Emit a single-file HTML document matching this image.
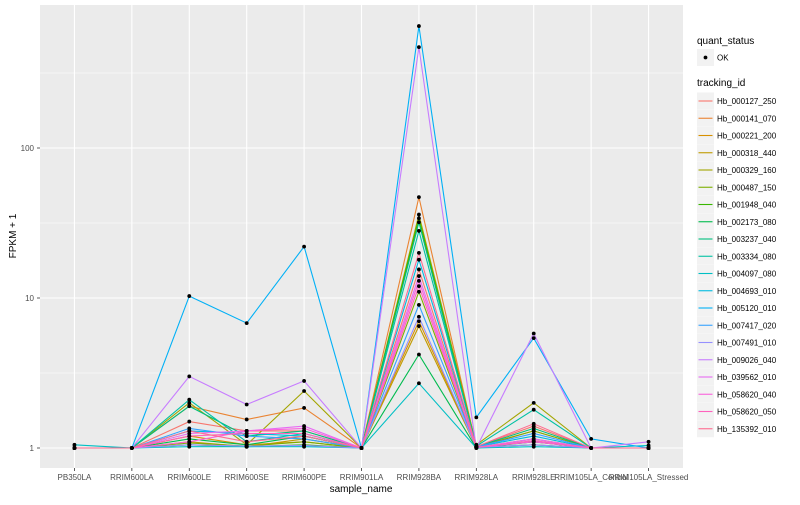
<!DOCTYPE html>
<html><head><meta charset="utf-8"><style>
body{margin:0;background:#fff;font-family:"Liberation Sans",sans-serif}
svg text{font-family:"Liberation Sans",sans-serif}
</style></head><body>
<svg id="chart" width="800" height="500" xmlns="http://www.w3.org/2000/svg">
<rect x="0" y="0" width="800" height="500" fill="#fff"/>
<rect id="panel" x="40" y="5" width="643" height="463" fill="#EBEBEB"/>
<g id="grid"></g><g id="lines"></g><g id="points"></g><g id="axes"></g><g id="legend"></g>
</svg>
<script>
const categories=["PB350LA","RRIM600LA","RRIM600LE","RRIM600SE","RRIM600PE","RRIM901LA","RRIM928BA","RRIM928LA","RRIM928LE","RRIM105LA_Control","RRIM105LA_Stressed"];
const seriesNames=["Hb_000127_250","Hb_000141_070","Hb_000221_200","Hb_000318_440","Hb_000329_160","Hb_000487_150","Hb_001948_040","Hb_002173_080","Hb_003237_040","Hb_003334_080","Hb_004097_080","Hb_004693_010","Hb_005120_010","Hb_007417_020","Hb_007491_010","Hb_009026_040","Hb_039562_010","Hb_058620_040","Hb_058620_050","Hb_135392_010"];
const seriesColors=["#F8766D","#EA8331","#D89000","#C09B00","#A3A500","#7CAE00","#39B600","#00BB4E","#00BF7D","#00C1A3","#00BFC4","#00BAE0","#00B0F6","#35A2FF","#9590FF","#C77CFF","#E76BF3","#FA62DB","#FF62BC","#FF6C91"];
const s01=[1,1,1.5,1.3,1.3,1,15.5,1.02,1.4,1,1];
const s02=[1,1,1.9,1.55,1.85,1,47,1.02,1.3,1,1];
const s03=[1,1,1.2,1.05,1.1,1,7,1.01,1.1,1,1];
const s04=[1,1,1.1,1.02,1.15,1,6.5,1.01,1.15,1,1];
const s05=[1,1,2.0,1.05,2.4,1,36,1.05,2.0,1,1];
const s06=[1,1,1.08,1.03,1.1,1,11,1.01,1.3,1,1];
const s07=[1,1,1.05,1.02,1.05,1,34,1.01,1.05,1,1];
const s08=[1,1,1.15,1.05,1.2,1,4.2,1.0,1.1,1,1];
const s09=[1,1,1.9,1.2,1.3,1,32,1.02,1.35,1,1];
const s10=[1,1,2.1,1.1,1.25,1,28,1.03,1.8,1,1];
const s11=[1.05,1,1.02,1.02,1.02,1,2.7,1.0,1.02,1,1.04];
const s12=[1,1,1.3,1.25,1.2,1,18,1.02,1.2,1,1];
const s13=[1,1,10.3,6.8,22,1,650,1.6,5.4,1.15,1];
const s14=[1,1,1.35,1.2,1.15,1,9,1.02,1.25,1,1];
const s15=[1,1,1.05,1.03,1.04,1,7.5,1.01,1.05,1,1];
const s16=[1,1,3.0,1.95,2.8,1,470,1.0,5.8,1,1.1];
const s17=[1,1,1.25,1.3,1.4,1,14,1.01,1.15,1,1];
const s18=[1,1,1.1,1.3,1.35,1,13,1.01,1.1,1,1];
const s19=[1,1,1.2,1.25,1.25,1,12,1.01,1.12,1,1];
const s20=[1,1,1.3,1.1,1.2,1,20,1.02,1.45,1,1];
const seriesValues=[s01,s02,s03,s04,s05,s06,s07,s08,s09,s10,s11,s12,s13,s14,s15,s16,s17,s18,s19,s20];
const yTicks=[1,10,100];
const yTickLabels=["1","10","100"];
const yMinor=[Math.sqrt(10),Math.sqrt(1000),Math.sqrt(100000)];

const NS="http://www.w3.org/2000/svg";
const px0=40,pw=643,py0=5,pyb=468;
const step=pw/(categories.length-1+1.2);
function xs(i){return px0+step*(0.6+i);}
function ys(v){return 448-150*Math.log10(v);}
function mk(tag,attrs,parent){const e=document.createElementNS(NS,tag);for(const k in attrs)e.setAttribute(k,attrs[k]);parent.appendChild(e);return e;}
const grid=document.getElementById('grid'),lines=document.getElementById('lines'),pts=document.getElementById('points'),axes=document.getElementById('axes'),leg=document.getElementById('legend');
yMinor.forEach(v=>{const l=mk('line',{x1:px0,x2:px0+pw,y1:ys(v),y2:ys(v),stroke:'#fff','stroke-width':0.5},grid);

});
yTicks.forEach((v,i)=>{const l=mk('line',{x1:px0,x2:px0+pw,y1:ys(v),y2:ys(v),stroke:'#fff','stroke-width':1.1},grid);


const t=mk('text',{x:34,y:ys(v)+3,'text-anchor':'end','font-size':8,fill:'#4D4D4D'},axes);t.textContent=yTickLabels[i];


const tk=mk('line',{x1:37,x2:40,y1:ys(v),y2:ys(v),stroke:'#333','stroke-width':0.8},axes);

});
categories.forEach((c,i)=>{const l=mk('line',{x1:xs(i),x2:xs(i),y1:py0,y2:pyb,stroke:'#fff','stroke-width':1.1},grid);


const tk=mk('line',{x1:xs(i),x2:xs(i),y1:pyb,y2:pyb+3,stroke:'#333','stroke-width':0.8},axes);


const t=mk('text',{x:xs(i),y:480,'text-anchor':'middle','font-size':8,fill:'#4D4D4D'},axes);t.textContent=c;

});
seriesValues.forEach((vals,s)=>{const d=vals.map((v,i)=>(i?'L':'M')+xs(i).toFixed(1)+' '+ys(v).toFixed(1)).join(' ');
const p=mk('path',{d:d,fill:'none',stroke:seriesColors[s],'stroke-width':1.1},lines);


vals.forEach((v,i)=>{const c=mk('circle',{cx:xs(i),cy:ys(v),r:1.9,fill:'#000'},pts);

});});
let t=mk('text',{x:361,y:492,'text-anchor':'middle','font-size':10,fill:'#000'},axes);t.textContent='sample_name';


t=mk('text',{x:0,y:0,'text-anchor':'middle','font-size':10,fill:'#000',transform:'translate(16,236) rotate(-90)'},axes);t.textContent='FPKM + 1';


t=mk('text',{x:697,y:44,'font-size':10,fill:'#000'},leg);t.textContent='quant_status';


let r=mk('rect',{x:697,y:49,width:17,height:17,fill:'#F2F2F2'},leg);


r=mk('circle',{cx:705.5,cy:57.5,r:1.9,fill:'#000'},leg);


t=mk('text',{x:717,y:60.5,'font-size':8,fill:'#000'},leg);t.textContent='OK';


t=mk('text',{x:697,y:86,'font-size':10,fill:'#000'},leg);t.textContent='tracking_id';


seriesNames.forEach((n,s)=>{const cy=101+s*17.25;
const g=mk('g',{},leg);


mk('rect',{x:697,y:cy-8.5,width:17,height:17,fill:'#F2F2F2'},g);
mk('line',{x1:698.5,x2:712.5,y1:cy,y2:cy,stroke:seriesColors[s],'stroke-width':1.1},g);
const tx=mk('text',{x:717,y:cy+3,'font-size':8,fill:'#000'},g);tx.textContent=n;});
</script>
</body></html>
